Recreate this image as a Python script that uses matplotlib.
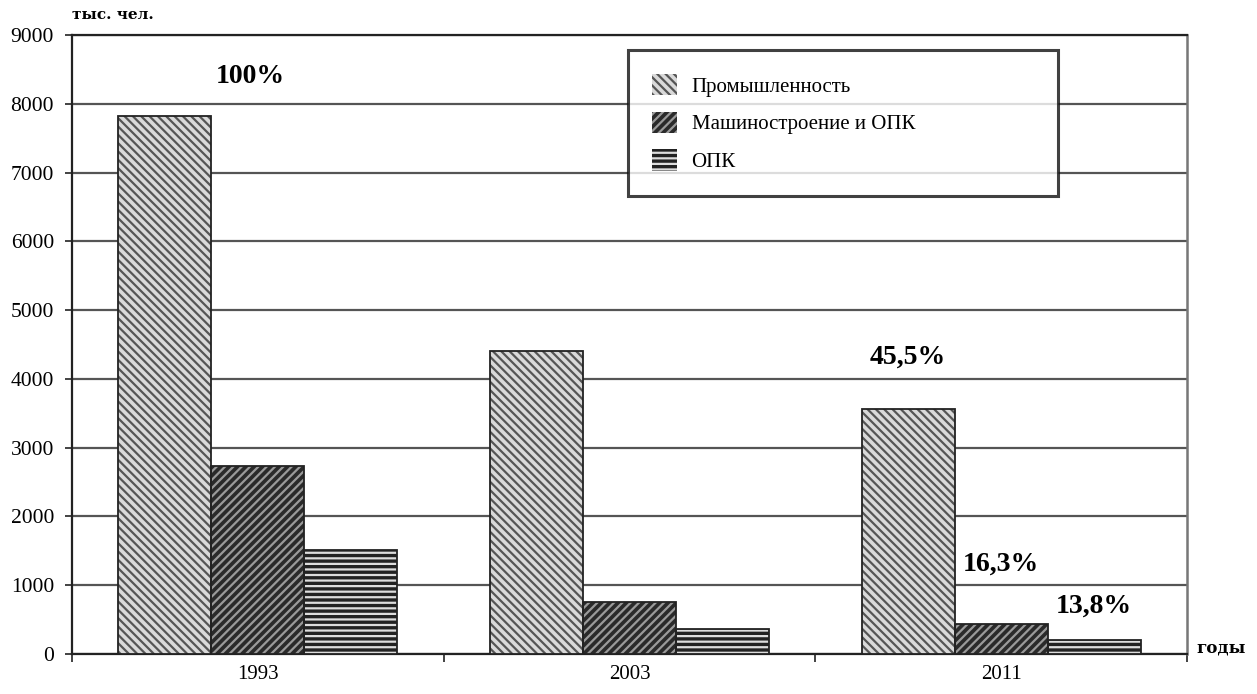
import matplotlib
matplotlib.use("Agg")
import matplotlib.pyplot as plt
import numpy as np

years = ["1993", "2003", "2011"]
series_names = ["Промышленность", "Машиностроение и ОПК", "ОПК"]
industry = [7820, 4400, 3560]
machinery = [2730, 760, 440]
defense = [1510, 360, 210]
yticks = [0, 1000, 2000, 3000, 4000, 5000, 6000, 7000, 8000, 9000]
pct_labels = ["100%", "45,5%", "16,3%", "13,8%"]

plt.rcParams['hatch.linewidth'] = 1.6
fig = plt.figure(figsize=(12.57, 6.94), dpi=100)
ax = fig.add_axes([0.0573, 0.0576, 0.8870, 0.8920])

x = np.arange(len(years))
w = 0.25
styles = [
    dict(fc="#d9d9d9", hc="#555555", hatch="\\\\\\\\"),
    dict(fc="#2a2a2a", hc="#9a9a9a", hatch="////"),
    dict(fc="#222222", hc="#dddddd", hatch="---"),
]
handles = []
for i, (vals, st) in enumerate(zip([industry, machinery, defense], styles)):
    pos = x + (i - 1) * w
    b = ax.bar(pos, vals, w, color=st["fc"], edgecolor=st["hc"], hatch=st["hatch"],
               linewidth=0, zorder=3, label=series_names[i])
    ax.bar(pos, vals, w, fill=False, edgecolor="#222222", linewidth=1.3, zorder=4)
    handles.append(b)

ax.set_xlim(-0.5, 2.5)
ax.set_ylim(0, 9000)
ax.set_yticks(yticks)
ax.set_yticklabels([str(t) for t in yticks], fontsize=15.5, family="Liberation Serif")
ax.set_xticks(x)
ax.set_xticklabels(years, fontsize=15, family="Liberation Serif")
ax.tick_params(axis="x", length=0, pad=8)
ax.set_xticks([-0.5, 0.5, 1.5, 2.5], minor=True)
ax.tick_params(axis="x", which="minor", length=6, width=1.2, direction="out", color="#222222")
ax.tick_params(axis="y", length=5, width=1.2, direction="out", pad=8, color="#222222")

ax.yaxis.grid(True, color="#555555", linewidth=1.6, zorder=0)
ax.set_axisbelow(True)
for s in ["left", "bottom"]:
    ax.spines[s].set_color("#222222")
    ax.spines[s].set_linewidth(1.6)
ax.spines["top"].set_color("#222222")
ax.spines["top"].set_linewidth(1.6)
ax.spines["right"].set_color("#777777")
ax.spines["right"].set_linewidth(1.8)

leg = ax.legend(handles=handles, loc="upper left",
                bbox_to_anchor=(0.4987, 0.7383, 0.3857, 0.2375), mode="expand",
                prop=dict(family="Liberation Serif", size=15), frameon=True, fancybox=False,
                borderpad=1.15, labelspacing=0.72, handlelength=1.2, handleheight=1.2,
                handletextpad=0.7, borderaxespad=0)
leg.get_frame().set_edgecolor("#111111")
leg.get_frame().set_linewidth(2.2)
leg.get_frame().set_facecolor("white")
leg.set_zorder(6)

pct_pos = [(-0.02, 8390), (1.75, 4320), (2.0, 1300), (2.25, 690)]
for (px, py), lab in zip(pct_pos, pct_labels):
    ax.text(px, py, lab, ha="center", va="center", fontsize=20, fontweight="bold",
            family="Liberation Serif", zorder=7)

fig.text(0.0573, 0.978, "тыс. чел.", fontsize=11, fontweight="bold", family="DejaVu Serif",
         ha="left", va="center")
fig.text(0.952, 0.066, "годы", fontsize=12, fontweight="bold", family="DejaVu Serif",
         ha="left", va="center")

fig.savefig("out.png", dpi=100)
